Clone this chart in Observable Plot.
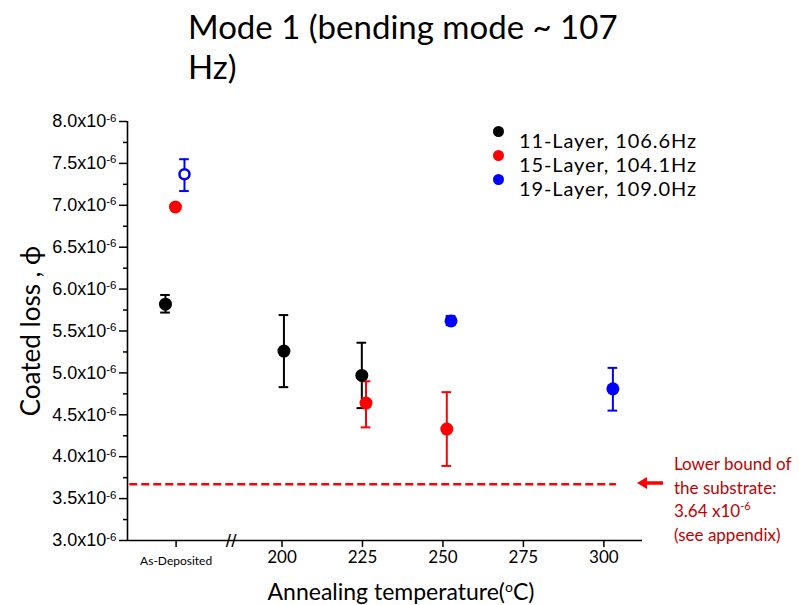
<!DOCTYPE html>
<html>
<head>
<meta charset="utf-8">
<script src="https://cdn.jsdelivr.net/npm/d3@7"></script>
<script src="https://cdn.jsdelivr.net/npm/@observablehq/plot@0.6"></script>
<style>
  body { margin: 0; background: white; }
  #wrap { position: relative; width: 799px; height: 605px; overflow: hidden; background: white; }
  #wrap svg { position: absolute; left: 0; top: 0; }
  .ov { position: absolute; white-space: nowrap; font-family: Lato, "Open Sans", sans-serif; color: #000; }
  #title { left: 188px; top: 6px; font-size: 33px; line-height: 40px; }
  #ylab { left: 30px; top: 331px; font-size: 26px; line-height: 26px; transform: translate(-50%, -50%) rotate(-90deg); }
  #xlab { left: 401px; top: 591px; font-size: 23px; line-height: 23px; transform: translate(-50%, -50%); }
  #xlab sup { font-size: 14px; vertical-align: 8px; line-height: 0; }
  #legend { left: 519px; top: 128px; font-size: 20px; letter-spacing: 0.9px; line-height: 24px; }
  .dotkey { position: absolute; width: 11px; height: 11px; border-radius: 50%; left: 493px; }
  #note { left: 674px; top: 452px; font-size: 17px; line-height: 23.5px; color: #c00000; }
  #note sup { font-size: 11px; vertical-align: 7px; line-height: 0; }
  #arrow { left: 637px; top: 476px; }
</style>
</head>
<body>
<div id="wrap"></div>
<script>
// ---- data (loss values in units of 1e-6) ----
const seriesNames = ["11-Layer, 106.6Hz", "15-Layer, 104.1Hz", "19-Layer, 109.0Hz"];
const seriesColors = ["#000000", "#ff0000", "#0000ff"];

const layer11X  = [163.8, 200.6, 224.8];
const layer11Y  = [5.82, 5.26, 4.97];
const layer11Lo = [5.72, 4.83, 4.58];
const layer11Hi = [5.93, 5.69, 5.36];

const layer15X  = [166.9, 226.1, 251.2];
const layer15Y  = [6.98, 4.64, 4.33];
const layer15Lo = [6.95, 4.35, 3.89];
const layer15Hi = [7.01, 4.90, 4.77];

const layer19X  = [169.7, 252.5, 302.8];
const layer19Y  = [7.37, 5.62, 4.81];
const layer19Lo = [7.17, 5.57, 4.55];
const layer19Hi = [7.55, 5.68, 5.06];
const layer19Open = [true, false, false];

const xTicks = [200, 225, 250, 275, 300];
const asDepositedX = 167.1;
const asDepositedLabel = "As-Deposited";
const axisBreakX = 184.2;
const xDomain = [152, 312];
const yDomain = [3.0, 8.0];
const yMajorTicks = [3.0, 3.5, 4.0, 4.5, 5.0, 5.5, 6.0, 6.5, 7.0, 7.5, 8.0];
const yMinorTicks = [3.25, 3.75, 4.25, 4.75, 5.25, 5.75, 6.25, 6.75, 7.25, 7.75];
const substrateBound = 3.67;
const substrateBoundSpan = [152.7, 303.9];
const capHalf = 1.5;

// ---- build table ----
function build(name, color, xs, ys, lo, hi, open) {
  return xs.map((x, i) => ({series: name, color, x, y: ys[i], lo: lo[i], hi: hi[i], open: open ? open[i] : false}));
}
const rows = [
  ...build(seriesNames[0], seriesColors[0], layer11X, layer11Y, layer11Lo, layer11Hi),
  ...build(seriesNames[1], seriesColors[1], layer15X, layer15Y, layer15Lo, layer15Hi),
  ...build(seriesNames[2], seriesColors[2], layer19X, layer19Y, layer19Lo, layer19Hi, layer19Open)
];

const plot = Plot.plot({
  width: 799,
  height: 605,
  marginLeft: 127,
  marginRight: 157,
  marginTop: 121,
  marginBottom: 65,
  style: {background: "white", color: "black", overflow: "visible"},
  x: {domain: xDomain, axis: null},
  y: {domain: yDomain, axis: null},
  marks: [
    Plot.ruleX([xDomain[0]], {stroke: "black", strokeWidth: 1.6}),
    Plot.ruleY([yDomain[0]], {stroke: "black", strokeWidth: 1.6}),
    Plot.axisY({ticks: yMajorTicks, tickSize: 8, tickPadding: 3, label: null,
      tickFormat: d => d.toFixed(1) + "x10", fontSize: 18, fontFamily: "Liberation Sans, Arial, sans-serif", strokeWidth: 1.5}),
    Plot.axisY({ticks: yMinorTicks, tickSize: 4, label: null, tickFormat: null, text: null, strokeWidth: 1.5}),
    Plot.axisX({ticks: xTicks, tickSize: 7, tickPadding: 3, label: null,
      fontSize: 17, fontFamily: "Lato, sans-serif", strokeWidth: 1.5}),
    Plot.axisX({ticks: [asDepositedX], tickSize: 7, tickPadding: 9, label: null,
      tickFormat: () => asDepositedLabel, fontSize: 12, fontFamily: "Lato, sans-serif", strokeWidth: 1.5}),
    Plot.text([axisBreakX], {x: d => d, y: () => yDomain[0], text: () => "//", fontSize: 19,
      fontFamily: "Liberation Sans, sans-serif", fill: "black"}),
    Plot.ruleY([substrateBound], {x1: substrateBoundSpan[0], x2: substrateBoundSpan[1],
      stroke: "#ff0000", strokeWidth: 2.5, strokeDasharray: "8,4"}),
    Plot.ruleX(rows, {x: "x", y1: "lo", y2: "hi", stroke: "color", strokeWidth: 2}),
    Plot.ruleY(rows, {y: "lo", x1: d => d.x - capHalf, x2: d => d.x + capHalf, stroke: "color", strokeWidth: 2}),
    Plot.ruleY(rows, {y: "hi", x1: d => d.x - capHalf, x2: d => d.x + capHalf, stroke: "color", strokeWidth: 2}),
    Plot.dot(rows.filter(d => !d.open), {x: "x", y: "y", r: 6.5, fill: "color", stroke: "none"}),
    Plot.dot(rows.filter(d => d.open), {x: "x", y: "y", r: 5, fill: "white", stroke: "color", strokeWidth: 2.5})
  ]
});

// y tick labels: size, font and superscripts (only non-empty labels)
d3.select(plot).selectAll('g[aria-label="y-axis tick label"]')
  .attr("font-size", 18).attr("font-family", "Liberation Sans, Arial, sans-serif");
d3.select(plot).selectAll('g[aria-label="y-axis tick label"] text').each(function() {
  const t = d3.select(this);
  if (!t.text().trim()) { t.remove(); return; }
  t.attr("font-size", 18).style("font-size", "18px");
  t.append("tspan").attr("dy", "-0.5em").attr("font-size", 11.5).style("font-size", "11.5px").text("-6");
});

const wrap = document.getElementById("wrap");
wrap.appendChild(plot);

function ov(id, cls, html) {
  const d = document.createElement("div");
  if (id) d.id = id;
  d.className = "ov " + (cls || "");
  d.innerHTML = html;
  wrap.appendChild(d);
  return d;
}
ov("title", "", "Mode 1 (bending mode ~ 107<br>Hz)");
ov("ylab", "", "Coated loss , ϕ");
ov("xlab", "", "Annealing temperature(<sup>o</sup>C)");
ov("legend", "", seriesNames.join("<br>"));
seriesColors.forEach((c, i) => {
  const k = document.createElement("div");
  k.className = "dotkey";
  k.style.background = c;
  k.style.top = (126 + i * 24) + "px";
  wrap.appendChild(k);
});
ov("note", "", "Lower bound of<br>the substrate:<br>3.64 x10<sup>-6</sup><br>(see appendix)");
ov("arrow", "", '<svg width="26" height="14"><path d="M26,5.2 L10,5.2 L10,1 L0,7 L10,13 L10,8.8 L26,8.8 Z" fill="#ff0000"/></svg>');
</script>
</body>
</html>
